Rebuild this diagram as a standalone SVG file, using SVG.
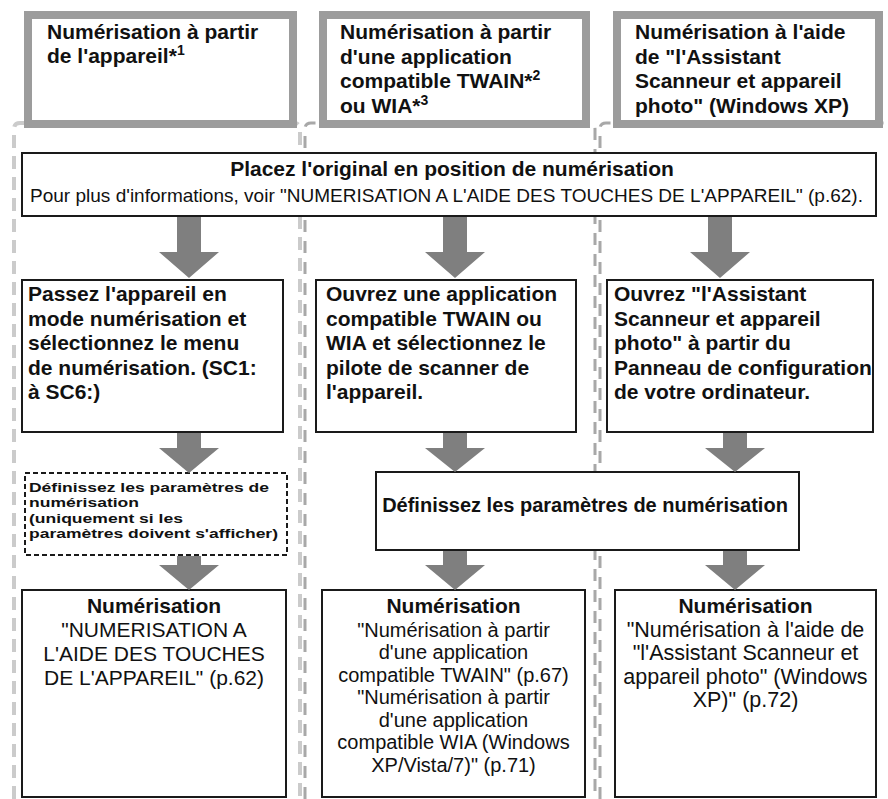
<svg xmlns="http://www.w3.org/2000/svg" width="888" height="799" viewBox="0 0 888 799">
<style>
text{font-family:"Liberation Sans",Arial,Helvetica,sans-serif;fill:#111}
.b{font-weight:bold;font-size:21px}
.r{font-size:20px}
.s{font-weight:bold;font-size:13.5px}
.hdr{fill:#fff;stroke:#9c9c9c;stroke-width:8}
.box{fill:#fff;stroke:#1a1a1a;stroke-width:2}
.dbox{fill:#fff;stroke:#1a1a1a;stroke-width:2;stroke-dasharray:5 3}
.arr{fill:#7f7f7f}
.col1{fill:none;stroke:#cbcbcb;stroke-width:4;stroke-dasharray:13 8}
.colm{fill:none;stroke:#a8a8a8;stroke-width:3;stroke-dasharray:12 9}
.sup{font-size:14px}
.c{text-anchor:middle}
</style>
<g id="frames">
<path class="col1" d="M14,799 V129 Q14,123 20,123 H294 Q300,123 300,129 V799"/>
<path class="colm" d="M305,799 V129 Q305,123 311,123 H589 Q595,123 595,129 V799"/>
<path class="colm" d="M600,799 V129 Q600,123 606,123 H886 Q892,123 892,129 V799"/>
</g>
<g id="h1"><rect class="hdr" x="28" y="15" width="265" height="109"/>
<text class="b" x="47" y="39">Numérisation à partir</text>
<text class="b" x="47" y="63">de l'appareil*<tspan class="sup" dy="-8">1</tspan></text></g>
<g id="h2"><rect class="hdr" x="323" y="15" width="263" height="109"/>
<text class="b" x="340" y="39">Numérisation à partir</text>
<text class="b" x="340" y="63.5">d'une application</text>
<text class="b" x="340" y="88">compatible TWAIN*<tspan class="sup" dy="-8">2</tspan></text>
<text class="b" x="340" y="112.5">ou WIA*<tspan class="sup" dy="-8">3</tspan></text></g>
<g id="h3"><rect class="hdr" x="617" y="15" width="262" height="109"/>
<text class="b" x="635" y="39">Numérisation à l'aide</text>
<text class="b" x="635" y="63.5">de "l'Assistant</text>
<text class="b" x="635" y="88">Scanneur et appareil</text>
<text class="b" x="635" y="112.5">photo" (Windows XP)</text></g>
<g id="place"><rect class="box" x="22" y="153" width="854" height="63"/>
<text class="b c" x="452" y="176">Placez l'original en position de numérisation</text>
<text class="r" x="30" y="202" style="font-size:19px" textLength="833" lengthAdjust="spacingAndGlyphs">Pour plus d'informations, voir "NUMERISATION A L'AIDE DES TOUCHES DE L'APPAREIL" (p.62).</text></g>
<g id="s1"><rect class="box" x="22" y="280" width="261" height="152"/>
<text class="b" x="28" y="301">Passez l'appareil en</text>
<text class="b" x="28" y="325.5">mode numérisation et</text>
<text class="b" x="28" y="350">sélectionnez le menu</text>
<text class="b" x="28" y="374.5">de numérisation. (SC1:</text>
<text class="b" x="28" y="399">à SC6:)</text></g>
<g id="s2"><rect class="box" x="316" y="280" width="260" height="152"/>
<text class="b" x="326" y="301">Ouvrez une application</text>
<text class="b" x="326" y="325.5">compatible TWAIN ou</text>
<text class="b" x="326" y="350">WIA et sélectionnez le</text>
<text class="b" x="326" y="374.5">pilote de scanner de</text>
<text class="b" x="326" y="399">l'appareil.</text></g>
<g id="s3"><rect class="box" x="607" y="280" width="266" height="152"/>
<text class="b" x="614" y="301">Ouvrez "l'Assistant</text>
<text class="b" x="614" y="325.5">Scanneur et appareil</text>
<text class="b" x="614" y="350">photo" à partir du</text>
<text class="b" x="614" y="374.5">Panneau de configuration</text>
<text class="b" x="614" y="399">de votre ordinateur.</text></g>
<g id="p1"><rect class="dbox" x="25" y="473" width="262" height="82"/>
<text class="s" x="29" y="491.5" textLength="240" lengthAdjust="spacingAndGlyphs">Définissez les paramètres de</text>
<text class="s" x="29" y="507" textLength="110" lengthAdjust="spacingAndGlyphs">numérisation</text>
<text class="s" x="29" y="522.5" textLength="154" lengthAdjust="spacingAndGlyphs">(uniquement si les</text>
<text class="s" x="29" y="538" textLength="249" lengthAdjust="spacingAndGlyphs">paramètres doivent s'afficher)</text></g>
<g id="p2"><rect class="box" x="376" y="472" width="423" height="78"/>
<text class="b c" x="585" y="512" style="font-size:20px">Définissez les paramètres de numérisation</text></g>
<g id="n1"><rect class="box" x="22" y="590" width="264" height="207"/>
<text class="b c" x="154" y="613">Numérisation</text>
<text class="r c" x="154" y="637" style="font-size:21px">"NUMERISATION A</text>
<text class="r c" x="154" y="661" style="font-size:21px">L'AIDE DES TOUCHES</text>
<text class="r c" x="154" y="685" style="font-size:21px">DE L'APPAREIL" (p.62)</text></g>
<g id="n2"><rect class="box" x="322" y="590" width="263" height="207"/>
<text class="b c" x="453.5" y="613">Numérisation</text>
<text class="r c" x="453.5" y="636.5">"Numérisation à partir</text>
<text class="r c" x="453.5" y="659">d'une application</text>
<text class="r c" x="453.5" y="681.5">compatible TWAIN" (p.67)</text>
<text class="r c" x="453.5" y="704">"Numérisation à partir</text>
<text class="r c" x="453.5" y="726.5">d'une application</text>
<text class="r c" x="453.5" y="749">compatible WIA (Windows</text>
<text class="r c" x="453.5" y="771.5">XP/Vista/7)" (p.71)</text></g>
<g id="n3"><rect class="box" x="615" y="590" width="261" height="207"/>
<text class="b c" x="745.5" y="613">Numérisation</text>
<text class="r c" x="745.5" y="637" style="font-size:21.5px">"Numérisation à l'aide de</text>
<text class="r c" x="745.5" y="660" style="font-size:21.5px">"l'Assistant Scanneur et</text>
<text class="r c" x="745.5" y="683.5" style="font-size:21.5px">appareil photo" (Windows</text>
<text class="r c" x="745.5" y="707" style="font-size:21.5px">XP)" (p.72)</text></g>
<g id="connectors">
<path class="arr" d="M177,217 H201 V252 H219 L189,278 L159,252 H177 Z"/>
<path class="arr" d="M443,217 H467 V252 H485 L455,278 L425,252 H443 Z"/>
<path class="arr" d="M708,217 H732 V252 H750 L720,278 L690,252 H708 Z"/>
<path class="arr" d="M177,433 H201 V448 H219 L189,473 L159,448 H177 Z"/>
<path class="arr" d="M443,433 H467 V448 H485 L455,472 L425,448 H443 Z"/>
<path class="arr" d="M723,433 H747 V448 H765 L735,472 L705,448 H723 Z"/>
<path class="arr" d="M177,556 H201 V565 H219 L189,590 L159,565 H177 Z"/>
<path class="arr" d="M443,551 H467 V565 H485 L455,590 L425,565 H443 Z"/>
<path class="arr" d="M723,551 H747 V565 H765 L735,590 L705,565 H723 Z"/>
</g>
</svg>
